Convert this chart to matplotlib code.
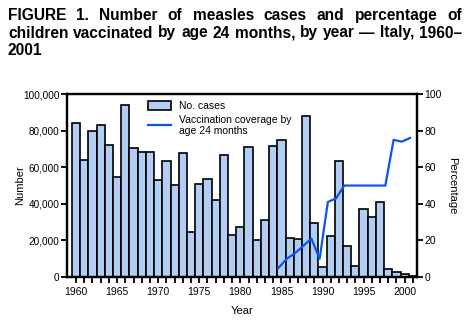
import matplotlib
matplotlib.use("Agg")
import matplotlib.pyplot as plt
import numpy as np

plt.rcParams['font.family'] = ['Liberation Sans', 'DejaVu Sans']

years = list(range(1960, 2002))
cases = [84000, 63800, 79800, 82900, 72300, 54500, 93800, 70500, 68100, 68100,
         52800, 63600, 50100, 67600, 24400, 50600, 53600, 41900, 66500, 22800,
         27500, 70900, 20200, 31000, 71600, 75000, 21500, 20900, 88000, 29300,
         5300, 22600, 63200, 17100, 6200, 37000, 32600, 41200, 4400, 2900,
         1600, 600]

cov_years = list(range(1985, 2002))
coverage = [5, 10, 13, 17, 21, 10, 41, 43, 50, 50, 50, 50, 50, 50, 75, 74, 76]

title_lines = ["FIGURE 1. Number of measles cases and percentage of",
               "children vaccinated by age 24 months, by year \u2014 Italy, 1960\u2013",
               "2001"]

W, H = 470, 329
fig = plt.figure(figsize=(W / 100, H / 100), dpi=100)
ax = fig.add_axes([0.1426, 0.158, 0.7446, 0.556])

bars = ax.bar(years, cases, width=1.0, color="#b3cdf5", edgecolor="black",
              linewidth=1.2, label="No. cases")
ax.set_xlim(1958.9, 2001.5)
ax.set_ylim(0, 100000)
ax.set_yticks(np.arange(0, 100001, 20000))
ax.set_yticklabels([f"{v:,}" for v in range(0, 100001, 20000)], fontsize=7.2)
ax.set_xticks(years, minor=True)
ax.set_xticks(range(1960, 2001, 5))
ax.set_xticklabels([str(y) for y in range(1960, 2001, 5)], fontsize=7.5)
ax.tick_params(axis="both", which="both", direction="out", length=4, width=1.3)
ax.tick_params(axis="y", pad=1.5)
ax.set_xlabel("Year", fontsize=8, labelpad=6)

ax2 = ax.twinx()
ln, = ax2.plot(np.array(cov_years) - 0.35, coverage, color="#0a55f0",
               linewidth=1.6)
ax2.set_ylim(0, 100)
ax2.set_yticks(range(0, 101, 20))
ax2.tick_params(axis="y", direction="out", length=4, width=1.3, labelsize=7.5, pad=1.5)

for a in (ax, ax2):
    for s in a.spines.values():
        s.set_linewidth(1.6)

fig.text(20 / W, 0.437, "Number", rotation=90, ha="center", va="center", fontsize=8)
fig.text(452 / W, 0.437, "Percentage", rotation=270, ha="center", va="center", fontsize=8)

ax2.legend([bars, ln], ["No. cases", "Vaccination coverage by\nage 24 months"],
           loc="upper left", bbox_to_anchor=(0.21, 1.0), frameon=False,
           fontsize=7.5, handlelength=2.2, handleheight=0.9,
           borderaxespad=0.3, labelspacing=0.3)

# title, first two lines justified between x0 and x1 (pixels)
x0, x1 = 8, 462
baselines = [20, 37.5, 55]
renderer = fig.canvas.get_renderer()
for i, line in enumerate(title_lines):
    y = 1 - baselines[i] / H
    if i == len(title_lines) - 1:
        fig.text(x0 / W, y, line, fontsize=11.2, fontweight="bold",
                 va="baseline", ha="left")
        continue
    words = line.split(" ")
    txts = [fig.text(0, y, w, fontsize=11.2, fontweight="bold",
                     va="baseline", ha="left") for w in words]
    widths = [t.get_window_extent(renderer).width for t in txts]
    gap = (x1 - x0 - sum(widths)) / (len(words) - 1)
    x = x0
    for t, w in zip(txts, widths):
        t.set_x(x / W)
        x += w + gap

fig.savefig("out.png", dpi=100)
